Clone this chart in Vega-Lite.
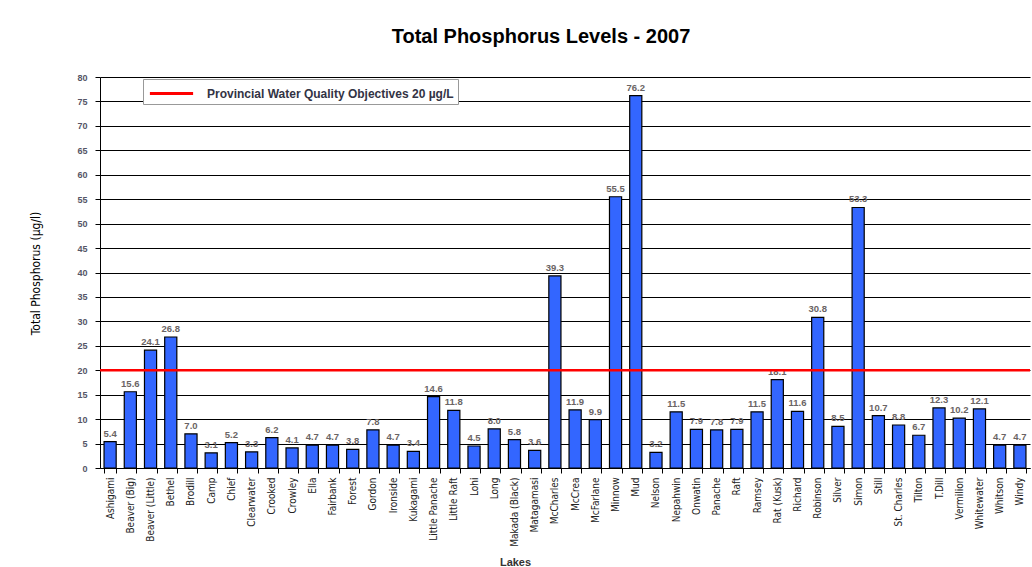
{
  "$schema": "https://vega.github.io/schema/vega-lite/v6.json",
  "autosize": "none",
  "padding": {"left": 100, "top": 77, "right": 2, "bottom": 99},
  "width": 930,
  "height": 391,
  "background": "white",
  "title": {
    "text": "Total Phosphorus Levels - 2007",
    "font": "Liberation Sans",
    "fontSize": 20,
    "fontWeight": "bold",
    "color": "#000000",
    "anchor": "middle",
    "dx": -24,
    "offset": 26
  },
  "config": {
    "view": {"stroke": null},
    "font": "Liberation Sans"
  },
  "datasets": {
    "lakes": [
      {"lake": "Ashigami", "tp": 5.4},
      {"lake": "Beaver (Big)", "tp": 15.6},
      {"lake": "Beaver (Little)", "tp": 24.1},
      {"lake": "Bethel", "tp": 26.8},
      {"lake": "Brodill", "tp": 7.0},
      {"lake": "Camp", "tp": 3.1},
      {"lake": "Chief", "tp": 5.2},
      {"lake": "Clearwater", "tp": 3.3},
      {"lake": "Crooked", "tp": 6.2},
      {"lake": "Crowley", "tp": 4.1},
      {"lake": "Ella", "tp": 4.7},
      {"lake": "Fairbank", "tp": 4.7},
      {"lake": "Forest", "tp": 3.8},
      {"lake": "Gordon", "tp": 7.8},
      {"lake": "Ironside", "tp": 4.7},
      {"lake": "Kukagami", "tp": 3.4},
      {"lake": "Little Panache", "tp": 14.6},
      {"lake": "Little Raft", "tp": 11.8},
      {"lake": "Lohi", "tp": 4.5},
      {"lake": "Long", "tp": 8.0},
      {"lake": "Makada (Black)", "tp": 5.8},
      {"lake": "Matagamasi", "tp": 3.6},
      {"lake": "McCharles", "tp": 39.3},
      {"lake": "McCrea", "tp": 11.9},
      {"lake": "McFarlane", "tp": 9.9},
      {"lake": "Minnow", "tp": 55.5},
      {"lake": "Mud", "tp": 76.2},
      {"lake": "Nelson", "tp": 3.2},
      {"lake": "Nepahwin", "tp": 11.5},
      {"lake": "Onwatin", "tp": 7.9},
      {"lake": "Panache", "tp": 7.8},
      {"lake": "Raft", "tp": 7.9},
      {"lake": "Ramsey", "tp": 11.5},
      {"lake": "Rat (Kusk)", "tp": 18.1},
      {"lake": "Richard", "tp": 11.6},
      {"lake": "Robinson", "tp": 30.8},
      {"lake": "Silver", "tp": 8.5},
      {"lake": "Simon", "tp": 53.3},
      {"lake": "Still", "tp": 10.7},
      {"lake": "St. Charles", "tp": 8.8},
      {"lake": "Tilton", "tp": 6.7},
      {"lake": "T.Dill", "tp": 12.3},
      {"lake": "Vermilion", "tp": 10.2},
      {"lake": "Whitewater", "tp": 12.1},
      {"lake": "Whitson", "tp": 4.7},
      {"lake": "Windy", "tp": 4.7}
    ],
    "objective": [
      {"series": "Provincial Water Quality Objectives 20 µg/L", "tp": 20}
    ]
  },
  "layer": [
    {
      "data": {"name": "lakes"},
      "encoding": {
        "x": {
          "field": "lake",
          "type": "nominal",
          "sort": null,
          "scale": {"paddingInner": 0.4, "paddingOuter": 0.2},
          "axis": {
            "title": "Lakes",
            "titleFont": "Liberation Sans",
            "titleFontSize": 11,
            "titleFontWeight": "bold",
            "titleColor": "#333333",
            "titleX": 415,
            "titleY": 88,
            "labelAngle": -90,
            "labelFont": "DejaVu Sans Condensed",
            "labelFontSize": 10,
            "labelColor": "#222222",
            "labelPadding": 4,
            "tickBand": "extent",
            "tickColor": "#000000",
            "tickSize": 5,
            "domainColor": "#000000",
            "grid": false
          }
        },
        "y": {
          "field": "tp",
          "type": "quantitative",
          "scale": {"domain": [0, 80], "nice": false},
          "axis": {
            "title": "Total Phosphorus (µg/l)",
            "titleFont": "DejaVu Sans Condensed",
            "titleFontSize": 12,
            "titleFontWeight": "normal",
            "titleColor": "#000000",
            "titleX": -58,
            "titleY": 196,
            "values": [0, 5, 10, 15, 20, 25, 30, 35, 40, 45, 50, 55, 60, 65, 70, 75, 80],
            "labelOverlap": false,
            "labelFont": "Liberation Sans",
            "labelFontSize": 9,
            "labelFontWeight": "bold",
            "labelColor": "#555566",
            "labelPadding": 8,
            "tickColor": "#000000",
            "tickSize": 5,
            "domainColor": "#000000",
            "grid": true,
            "gridColor": "#000000",
            "gridWidth": 1,
            "gridOpacity": 1
          }
        }
      },
      "layer": [
        {
          "mark": {"type": "bar", "color": "#3366FF", "stroke": "#000000", "strokeWidth": 1.2}
        },
        {
          "mark": {"type": "text", "dy": -8, "fontSize": 9.5, "fontWeight": "bold", "color": "#6a6464", "font": "Liberation Sans"},
          "encoding": {
            "text": {"field": "tp", "type": "quantitative", "format": ".1f"}
          }
        }
      ]
    },
    {
      "data": {"name": "objective"},
      "mark": {"type": "rule", "strokeWidth": 2.5},
      "encoding": {
        "y": {
          "field": "tp",
          "type": "quantitative",
          "scale": {"domain": [0, 80], "nice": false},
          "axis": {
            "title": "Total Phosphorus (µg/l)",
            "titleFont": "DejaVu Sans Condensed",
            "titleFontSize": 12,
            "titleFontWeight": "normal",
            "titleColor": "#000000",
            "titleX": -58,
            "titleY": 196,
            "values": [0, 5, 10, 15, 20, 25, 30, 35, 40, 45, 50, 55, 60, 65, 70, 75, 80],
            "labelOverlap": false,
            "labelFont": "Liberation Sans",
            "labelFontSize": 9,
            "labelFontWeight": "bold",
            "labelColor": "#555566",
            "labelPadding": 8,
            "tickColor": "#000000",
            "tickSize": 5,
            "domainColor": "#000000",
            "grid": true,
            "gridColor": "#000000",
            "gridWidth": 1,
            "gridOpacity": 1
          }
        },
        "color": {
          "field": "series",
          "type": "nominal",
          "scale": {"range": ["#FF0000"]},
          "legend": {
            "title": null,
            "orient": "none",
            "legendX": 43,
            "legendY": 2,
            "direction": "horizontal",
            "fillColor": "#FFFFFF",
            "strokeColor": "#999999",
            "padding": 4,
            "symbolType": "M-2.4,0H2.4",
            "symbolSize": 324,
            "symbolStrokeWidth": 3,
            "symbolOffset": 14,
            "labelOffset": 25,
            "labelFont": "Liberation Sans",
            "labelFontSize": 12,
            "labelFontWeight": "bold",
            "labelColor": "#333344",
            "labelLimit": 500
          }
        }
      }
    }
  ]
}
